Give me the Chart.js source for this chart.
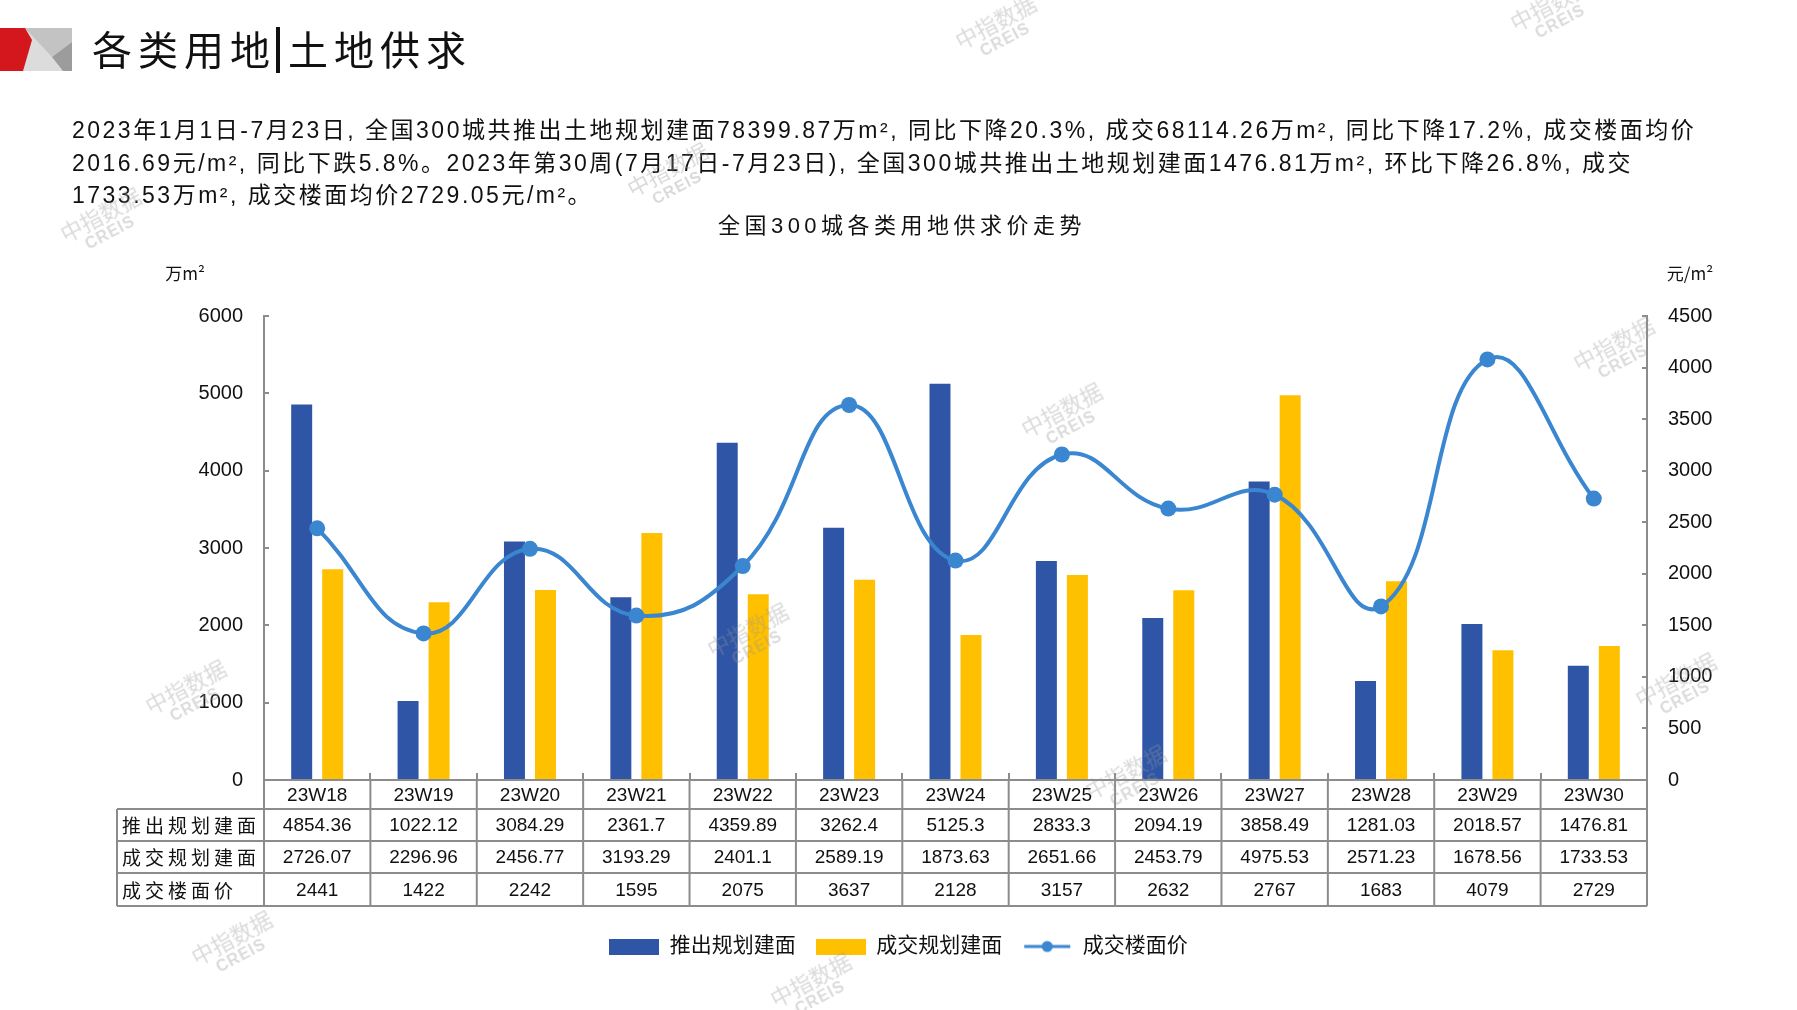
<!DOCTYPE html>
<html lang="zh-CN">
<head>
<meta charset="utf-8">
<title>各类用地|土地供求</title>
<script src="https://cdn.jsdelivr.net/npm/chart.js@4.4.1/dist/chart.umd.min.js"></script>
<style>
  html, body { margin: 0; padding: 0; background: #fff; }
  body { width: 1797px; height: 1010px; position: relative; overflow: hidden;
         font-family: "Liberation Sans", "Noto Sans CJK SC", sans-serif; color: #111; }
  #chart { position: absolute; left: 0; top: 0; }
  .logo { position: absolute; left: 0; top: 28px; }
  .heading { position: absolute; left: 92px; top: 20px; font-family: "Noto Sans CJK SC"; font-size: 40px;
             line-height: 56px; letter-spacing: 6px; white-space: nowrap; }
  .heading .sep { display: inline-block; width: 4px; height: 46px; background: #111; vertical-align: -8px; margin: 0 8px 0 0; }
  .para { position: absolute; left: 72px; top: 114px; font-size: 23px; line-height: 32.5px; letter-spacing: 2.5px; white-space: nowrap; }
  .wm { position: absolute; color: rgba(150,150,150,0.35); transform: translate(-50%, -50%) rotate(-28deg);
        text-align: center; font-family: "Noto Sans CJK SC"; font-size: 22px; line-height: 22px; pointer-events: none; white-space: nowrap; }
  .wm b { display: block; font-family: "Liberation Sans"; font-size: 16px; letter-spacing: 1px; }
</style>
</head>
<body>
<canvas id="chart" width="1797" height="1010"></canvas>

<svg class="logo" width="72" height="43" viewBox="0 0 72 43">
  <rect x="0" y="0" width="72" height="43" fill="#dcdcdc"/>
  <polygon points="25,0 72,0 72,14 52,29" fill="#c3c3c3"/>
  <polygon points="72,14 52,29 63,43 72,43" fill="#9c9c9c"/>
  <polygon points="0,0 25,0 32,12 23,43 0,43" fill="#d3171c"/>
</svg>
<div class="heading">各类用地<span class="sep"></span>土地供求</div>
<div class="para">2023年1月1日-7月23日, 全国300城共推出土地规划建面78399.87万m², 同比下降20.3%, 成交68114.26万m², 同比下降17.2%, 成交楼面均价<br>2016.69元/m², 同比下跌5.8%。2023年第30周(7月17日-7月23日), 全国300城共推出土地规划建面1476.81万m², 环比下降26.8%, 成交<br>1733.53万m², 成交楼面均价2729.05元/m²。</div>

<div class="wm" style="left:1000px;top:30px">中指数据<b>CREIS</b></div>
<div class="wm" style="left:1555px;top:12px">中指数据<b>CREIS</b></div>
<div class="wm" style="left:105px;top:223px">中指数据<b>CREIS</b></div>
<div class="wm" style="left:672px;top:178px">中指数据<b>CREIS</b></div>
<div class="wm" style="left:1066px;top:418px">中指数据<b>CREIS</b></div>
<div class="wm" style="left:1618px;top:352px">中指数据<b>CREIS</b></div>
<div class="wm" style="left:190px;top:695px">中指数据<b>CREIS</b></div>
<div class="wm" style="left:752px;top:638px">中指数据<b>CREIS</b></div>
<div class="wm" style="left:1130px;top:780px">中指数据<b>CREIS</b></div>
<div class="wm" style="left:1680px;top:688px">中指数据<b>CREIS</b></div>
<div class="wm" style="left:236px;top:946px">中指数据<b>CREIS</b></div>
<div class="wm" style="left:815px;top:988px">中指数据<b>CREIS</b></div>

<script>
// ---- data ----
const weeks = ["23W18", "23W19", "23W20", "23W21", "23W22", "23W23", "23W24",
               "23W25", "23W26", "23W27", "23W28", "23W29", "23W30"];
const launchArea = [4854.36, 1022.12, 3084.29, 2361.7, 4359.89, 3262.4, 5125.3,
                    2833.3, 2094.19, 3858.49, 1281.03, 2018.57, 1476.81];
const dealArea = [2726.07, 2296.96, 2456.77, 3193.29, 2401.1, 2589.19, 1873.63,
                  2651.66, 2453.79, 4975.53, 2571.23, 1678.56, 1733.53];
const floorPrice = [2441, 1422, 2242, 1595, 2075, 3637, 2128, 3157, 2632, 2767, 1683, 4079, 2729];
const leftTicks = [0, 1000, 2000, 3000, 4000, 5000, 6000];
const rightTicks = [0, 500, 1000, 1500, 2000, 2500, 3000, 3500, 4000, 4500];
const seriesNames = ["推出规划建面", "成交规划建面", "成交楼面价"];
const chartTitle = "全国300城各类用地供求价走势";
const unitLeft = "万m²";
const unitRight = "元/m²";

const BLUE = "#2f56a6";
const YELLOW = "#ffc000";
const LINE = "#3a86d0";
const AXIS = "#8c8c8c";

Chart.defaults.font.family = "'Liberation Sans', 'Noto Sans CJK SC', sans-serif";
Chart.defaults.color = "#111";

// legend icons (bar swatch / line with dot)
function makeIcon(kind, color) {
    const c = document.createElement("canvas");
    c.width = 50; c.height = 16;
    const g = c.getContext("2d");
    g.fillStyle = color;
    g.strokeStyle = color;
    if (kind === "bar") {
        g.fillRect(0, 0, 50, 16);
    } else {
        g.lineWidth = 3;
        g.beginPath(); g.moveTo(2, 8); g.lineTo(48, 8); g.stroke();
        g.beginPath(); g.arc(25, 8, 5.5, 0, Math.PI * 2); g.fill();
    }
    return c;
}
const legendIcons = [makeIcon("bar", BLUE), makeIcon("bar", YELLOW), makeIcon("line", LINE)];

// title, axis units and the data table under the x axis
const tablePlugin = {
    id: "dataTable",
    afterDraw(chart) {
        const {ctx, chartArea} = chart;
        const xs = chart.scales.x;
        const n = weeks.length;
        const colW = (xs.right - xs.left) / n;
        const top = chartArea.bottom;
        const rows = [top, top + 29, top + 61, top + 93, top + 126];
        const labelLeft = 117;

        ctx.save();
        ctx.strokeStyle = AXIS;
        ctx.lineWidth = 2;
        ctx.beginPath();
        ctx.moveTo(xs.left, rows[0]); ctx.lineTo(xs.right, rows[0]);
        for (let r = 1; r < rows.length; r++) {
            ctx.moveTo(labelLeft, rows[r]); ctx.lineTo(xs.right, rows[r]);
        }
        ctx.moveTo(labelLeft, rows[1]); ctx.lineTo(labelLeft, rows[4]);
        for (let i = 0; i <= n; i++) {
            const x = xs.left + i * colW;
            ctx.moveTo(x, rows[0]); ctx.lineTo(x, rows[4]);
        }
        ctx.stroke();

        ctx.fillStyle = "#111";
        ctx.textBaseline = "middle";
        ctx.textAlign = "center";
        ctx.font = "19px 'Liberation Sans', 'Noto Sans CJK SC'";
        [weeks, launchArea, dealArea, floorPrice].forEach((vals, r) => {
            const cy = (rows[r] + rows[r + 1]) / 2 + 1;
            vals.forEach((v, i) => ctx.fillText(String(v), xs.getPixelForValue(i), cy));
        });

        ctx.textAlign = "left";
        ctx.letterSpacing = "4px";
        ctx.font = "19px 'Noto Sans CJK SC'";
        seriesNames.forEach((name, r) => {
            ctx.fillText(name, labelLeft + 5, (rows[r + 1] + rows[r + 2]) / 2 + 1);
        });

        // chart title
        ctx.textAlign = "center";
        ctx.letterSpacing = "4.5px";
        ctx.font = "22px 'Liberation Sans', 'Noto Sans CJK SC'";
        ctx.fillText(chartTitle, 902, chartArea.top - 89);
        ctx.letterSpacing = "0px";

        ctx.font = "17px 'Noto Sans CJK SC', 'Liberation Sans'";
        ctx.fillText(unitLeft, 185, chartArea.top - 42);
        ctx.fillText(unitRight, 1690, chartArea.top - 42);
        ctx.restore();
    }
};

new Chart(document.getElementById("chart"), {
    type: "bar",
    data: {
        labels: weeks,
        datasets: [
            {
                label: seriesNames[0],
                data: launchArea,
                backgroundColor: BLUE,
                yAxisID: "y",
                categoryPercentage: 0.583,
                barPercentage: 0.677,
                order: 1
            },
            {
                label: seriesNames[1],
                data: dealArea,
                backgroundColor: YELLOW,
                yAxisID: "y",
                categoryPercentage: 0.583,
                barPercentage: 0.677,
                order: 1
            },
            {
                type: "line",
                label: seriesNames[2],
                data: floorPrice,
                yAxisID: "y1",
                borderColor: LINE,
                backgroundColor: LINE,
                borderWidth: 4,
                pointRadius: 8,
                pointBorderWidth: 0,
                pointBackgroundColor: LINE,
                tension: 0.45,
                order: 0
            }
        ]
    },
    options: {
        responsive: false,
        animation: false,
        layout: { padding: { top: 316, bottom: 43, left: 0, right: 0 } },
        plugins: {
            tooltip: { enabled: false },
            title: { display: false },
            legend: {
                position: "bottom",
                labels: {
                    font: { size: 21 },
                    color: "#111",
                    usePointStyle: true,
                    pointStyleWidth: 50,
                    boxHeight: 16,
                    padding: 20,
                    generateLabels: chart => chart.data.datasets.map((ds, i) => ({
                        text: ds.label,
                        pointStyle: legendIcons[i],
                        fillStyle: "transparent",
                        strokeStyle: "transparent",
                        lineWidth: 0,
                        fontColor: "#111",
                        hidden: false,
                        datasetIndex: i
                    }))
                }
            }
        },
        scales: {
            x: {
                afterFit: s => { s.height = 136; },
                ticks: { display: false },
                grid: { offset: true, drawOnChartArea: false, color: AXIS, lineWidth: 2, tickLength: -7 },
                border: { color: AXIS, width: 2 }
            },
            y: {
                position: "left",
                min: 0,
                max: 6000,
                afterBuildTicks: s => { s.ticks = leftTicks.map(v => ({ value: v })); },
                afterFit: s => { s.width = 264; },
                ticks: { font: { size: 20 }, color: "#111", padding: 26, callback: v => String(v) },
                grid: { drawOnChartArea: false, color: AXIS, lineWidth: 2, tickLength: -5 },
                border: { color: AXIS, width: 2 }
            },
            y1: {
                position: "right",
                min: 0,
                max: 4500,
                afterBuildTicks: s => { s.ticks = rightTicks.map(v => ({ value: v })); },
                afterFit: s => { s.width = 150; },
                ticks: { font: { size: 20 }, color: "#111", padding: 26, callback: v => String(v) },
                grid: { drawOnChartArea: false, color: AXIS, lineWidth: 2, tickLength: -5 },
                border: { color: AXIS, width: 2 }
            }
        }
    },
    plugins: [tablePlugin]
});
</script>
</body>
</html>
